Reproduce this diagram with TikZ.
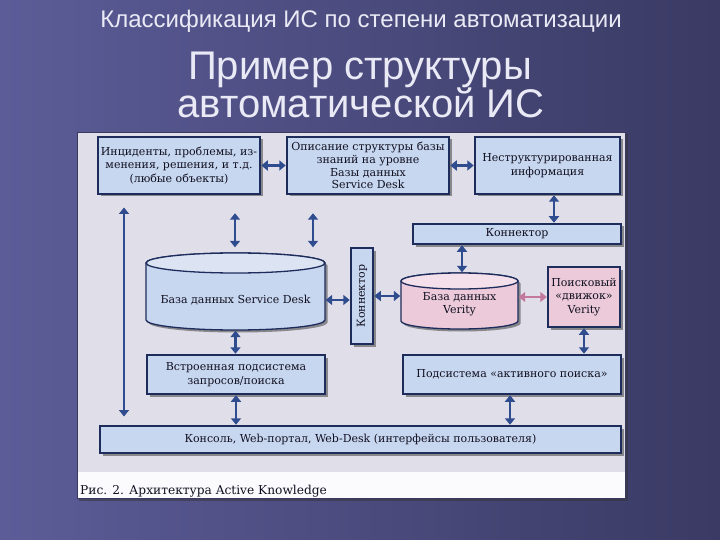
\documentclass[tikz,border=0pt]{standalone}
\usepackage{fontspec}
\setmainfont{DejaVu Serif}
\newfontfamily\titfont{Liberation Sans}
\usetikzlibrary{arrows.meta,shadows,calc}

\definecolor{bgL}{HTML}{5C5C98}
\definecolor{bgR}{HTML}{3A3A64}
\definecolor{panel}{HTML}{DFDEE9}
\definecolor{capbg}{HTML}{FBFBFE}
\definecolor{boxfill}{HTML}{C8D7F0}
\definecolor{boxtop}{HTML}{DCE4F4}
\definecolor{boxline}{HTML}{1E2C5C}
\definecolor{arr}{HTML}{2E4C8E}
\definecolor{pinkarr}{HTML}{C4789E}
\definecolor{pinkfill}{HTML}{ECCADA}
\definecolor{pinktop}{HTML}{F4E0EA}
\definecolor{titcol}{HTML}{EAEAF6}
\definecolor{txt}{HTML}{101020}
\definecolor{panelline}{HTML}{3A3A5E}

\tikzset{
  dshadow/.style={drop shadow={shadow xshift=2.5pt, shadow yshift=-2.5pt, fill=black!75, opacity=0.55}},
  box/.style={draw=boxline, line width=1.5pt, fill=boxfill, dshadow, inner sep=0pt,
    align=center, text=txt, font=\fontsize{11}{13.3}\selectfont},
  boxpink/.style={box, fill=pinkfill},
  cyl/.style={draw=boxline, line width=1.3pt},
  lbl/.style={align=center, text=txt, font=\fontsize{11}{13.3}\selectfont, inner sep=0pt},
  biarrow/.style={arr, line width=2.6pt, {Triangle[length=6.5pt,width=10pt]}-{Triangle[length=6.5pt,width=10pt]},
    shorten <=0.5pt, shorten >=0.5pt},
  pinkarrow/.style={biarrow, pinkarr},
  tit/.style={text=titcol, inner sep=0pt, anchor=base}
}

\begin{document}
\begin{tikzpicture}[x=1pt, y=-1pt]
\useasboundingbox (0,0) rectangle (720,540);
% background
\shade[left color=bgL, right color=bgR] (0,0) rectangle (720,540);

% titles
\node[tit, font=\titfont\fontsize{24}{28}\selectfont] (t1) at (361,28) {Классификация ИС по степени автоматизации};
\node[tit, font=\titfont\fontsize{40}{44}\selectfont] (t2) at (360,80) {Пример структуры};
\node[tit, font=\titfont\fontsize{40}{44}\selectfont] (t3) at (361,118) {автоматической ИС};

% panel
\fill[black!80, opacity=0.5] (79,134) rectangle (628,501);
\fill[panel] (77,132) rectangle (625,472);
\fill[capbg] (77,472) rectangle (625,498);
\draw[panelline, line width=0.8pt] (77,132) rectangle (625,498);
\node[anchor=base west, inner sep=0pt, text=txt, font=\fontsize{12.2}{14}\selectfont] (cap) at (80,494) {Рис. 2. Архитектура Active Knowledge};

% top row boxes
\node[box, minimum width=162pt, minimum height=57pt] (inc) at (179,165.5)
  {Инциденты, проблемы, из-\\менения, решения, и т.д.\\(любые объекты)};
\node[box, minimum width=162pt, minimum height=57pt, font=\fontsize{11}{12.8}\selectfont] (desc) at (368,165.5)
  {Описание структуры базы\\знаний на уровне\\Базы данных\\Service Desk};
\node[box, minimum width=145pt, minimum height=57pt] (unstr) at (547.5,165.5)
  {Неструктурированная\\информация};

% connector boxes
\node[box, minimum width=208pt, minimum height=20pt] (conH) at (517,234) {Коннектор};
\node[box, minimum width=22pt, minimum height=96pt] (conV) at (362,296) {};
\node[lbl, rotate=90] (conVt) at (conV) {Коннектор};

% cylinder Service Desk
\path[cyl, fill=boxfill, dshadow] (146,263) -- (146,320)
  arc[start angle=180, end angle=0, x radius=89.5, y radius=10] -- (325,263)
  arc[start angle=0, end angle=-180, x radius=89.5, y radius=10] -- cycle;
\draw[cyl, fill=boxtop] (235.5,263) ellipse[x radius=89.5, y radius=10];
\node[minimum width=179pt, minimum height=77pt, inner sep=0pt] (cylSD) at (235.5,291.5) {};
\node[lbl] (cylSDt) at (235.5,300) {База данных Service Desk};

% cylinder Verity
\path[cyl, fill=pinkfill, dshadow] (401,281) -- (401,321)
  arc[start angle=180, end angle=0, x radius=58.5, y radius=8] -- (518,281)
  arc[start angle=0, end angle=-180, x radius=58.5, y radius=8] -- cycle;
\draw[cyl, fill=pinktop] (459.5,281) ellipse[x radius=58.5, y radius=8];
\node[minimum width=117pt, minimum height=56pt, inner sep=0pt] (cylV) at (459.5,301) {};
\node[lbl] (cylVt) at (459.5,304.5) {База данных\\Verity};

% search engine
\node[boxpink, minimum width=72pt, minimum height=60pt] (search) at (584,297)
  {Поисковый\\«движок»\\Verity};

% lower boxes
\node[box, minimum width=178pt, minimum height=39pt] (builtin) at (236,374.5)
  {Встроенная подсистема\\запросов/поиска};
\node[box, minimum width=218pt, minimum height=39pt] (active) at (512,374.5)
  {Подсистема «активного поиска»};
\node[box, minimum width=521pt, minimum height=27pt] (console) at (360.5,439.5)
  {Консоль, Web-портал, Web-Desk (интерфейсы пользователя)};

% connectors
\draw[biarrow] (inc.east) -- (desc.west);
\draw[biarrow] (desc.east) -- (unstr.west);
\coordinate (a3) at ($(unstr.south)+(6.5,0)$);
\draw[biarrow] (a3) -- (a3 |- conH.north);
\coordinate (L1) at (124,207);
\coordinate (L2) at (124,417);
\draw[biarrow] (L1) -- (L2);
\coordinate (a5) at ($(inc.south)+(56,18)$);
\draw[biarrow] (a5) -- ($(a5 |- cylSD.north)+(0,-5)$);
\coordinate (a6) at ($(desc.south)+(-55,18)$);
\draw[biarrow] (a6) -- ($(a6 |- cylSD.north)+(0,-5)$);
\coordinate (a7) at ($(cylSD.east)+(0,8.5)$);
\draw[biarrow] (a7) -- (a7 -| conV.west);
\draw[biarrow] (conV.east) -- (conV.east -| cylV.west);
\coordinate (a9) at ($(conH.south)+(-55,0)$);
\draw[biarrow] (a9) -- (a9 |- cylV.north);
\draw[pinkarrow] (search.west -| cylV.east) -- (search.west);
\draw[biarrow] (search.south) -- (search.south |- active.north);
\draw[biarrow] (cylSD.south) -- (cylSD.south |- builtin.north);
\draw[biarrow] (builtin.south) -- (builtin.south |- console.north);
\coordinate (a14) at ($(active.south)+(-2,0)$);
\draw[biarrow] (a14) -- (a14 |- console.north);
\end{tikzpicture}
\end{document}
